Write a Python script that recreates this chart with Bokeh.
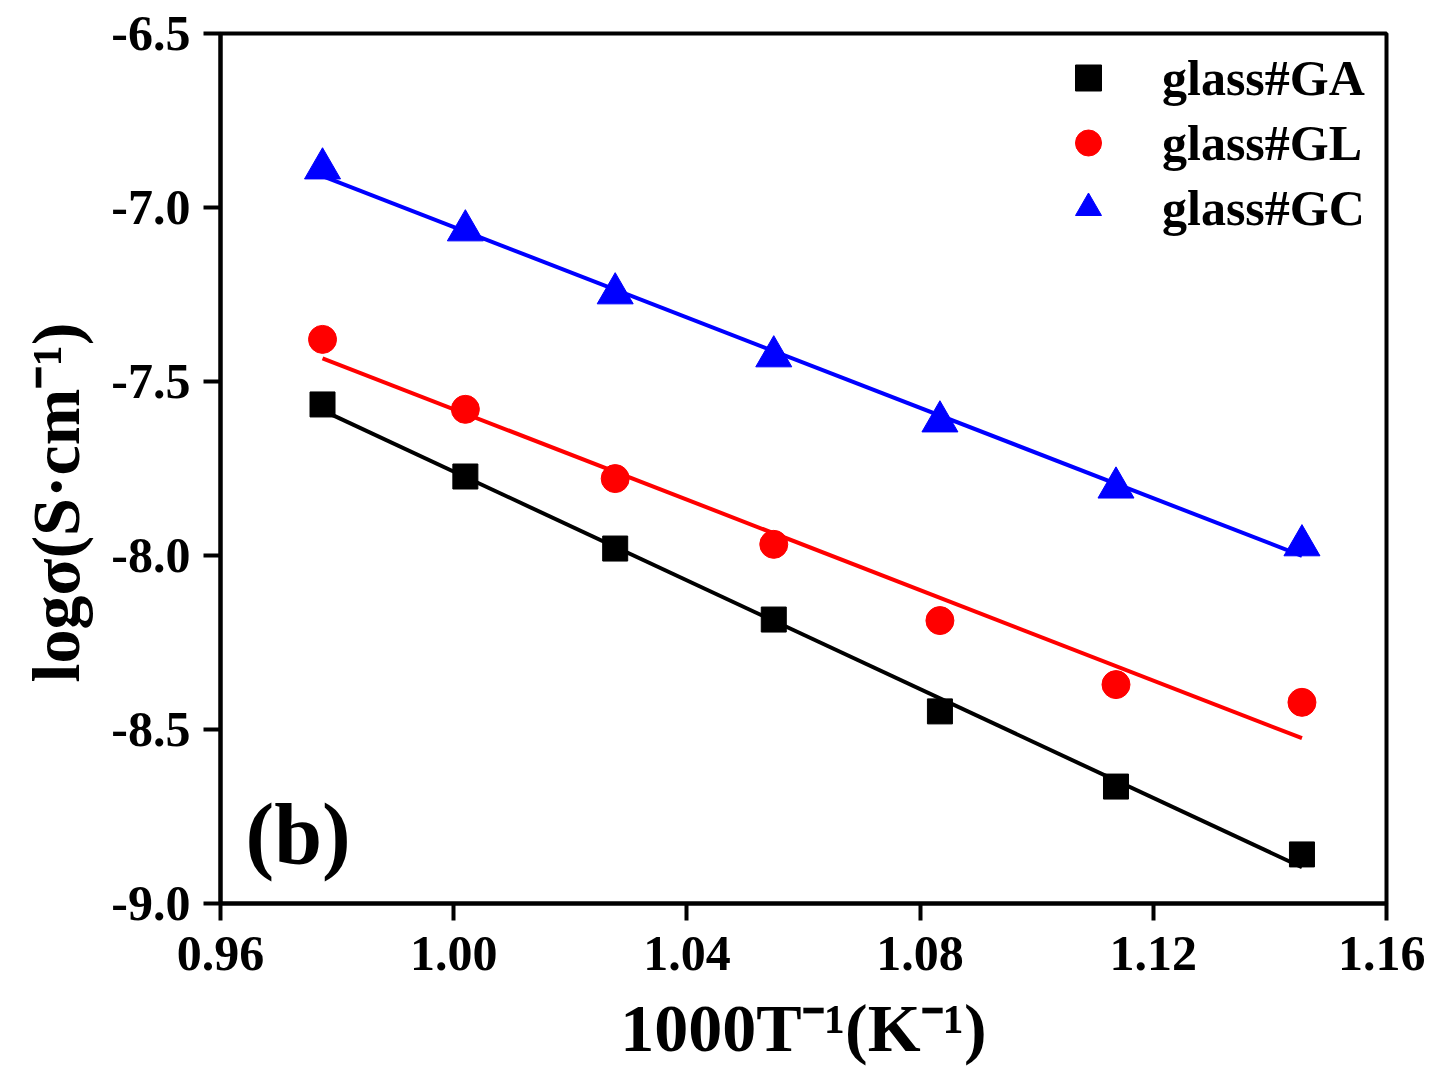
import numpy as np
from bokeh.plotting import figure
from bokeh.models import (Label, Legend, LegendItem, FixedTicker, Range1d,
                          NumeralTickFormatter)
from bokeh.embed import file_html
from bokeh.resources import INLINE

# ---------------- data ----------------
inv_T = [0.9775, 1.0020, 1.0277, 1.0549, 1.0834, 1.1136, 1.1455]   # 1000/T (K^-1)
log_sigma_GA = [-7.566, -7.773, -7.980, -8.184, -8.448, -8.664, -8.859]
log_sigma_GL = [-7.379, -7.580, -7.779, -7.968, -8.187, -8.371, -8.422]
log_sigma_GC = [-6.888, -7.066, -7.247, -7.428, -7.615, -7.805, -7.971]
series_names = ["glass#GA", "glass#GL", "glass#GC"]

x_ticks = [0.96, 1.00, 1.04, 1.08, 1.12, 1.16]
x_tick_labels = ["0.96", "1.00", "1.04", "1.08", "1.12", "1.16"]
y_ticks = [-9.0, -8.5, -8.0, -7.5, -7.0, -6.5]
y_tick_labels = ["-9.0", "-8.5", "-8.0", "-7.5", "-7.0", "-6.5"]

x_title = "1000T\u207b\u00b9(K\u207b\u00b9)"
y_title = "log\u03c3(S\u00b7cm\u207b\u00b9)"
panel_label = "(b)"

# ---------------- figure ----------------
FONT = "Liberation Serif"
p = figure(width=1425, height=1069,
           x_range=Range1d(0.96, 1.16), y_range=Range1d(-9.0, -6.5),
           output_backend="svg", toolbar_location=None,
           min_border_left=220, min_border_right=39,
           min_border_top=33, min_border_bottom=166)
p.grid.visible = False
p.background_fill_color = "white"
p.border_fill_color = "white"
p.outline_line_color = "black"
p.outline_line_width = 4
p.outline_line_alpha = 1.0

p.xaxis.ticker = FixedTicker(ticks=x_ticks)
p.yaxis.ticker = FixedTicker(ticks=y_ticks)
p.xaxis.formatter = NumeralTickFormatter(format="0.00")
p.yaxis.formatter = NumeralTickFormatter(format="0.0")
p.xaxis.major_label_overrides = dict(zip(x_ticks, x_tick_labels))
p.yaxis.major_label_overrides = dict(zip(y_ticks, y_tick_labels))

for ax in (p.xaxis[0], p.yaxis[0]):
    ax.axis_line_width = 4
    ax.axis_line_color = "black"
    ax.major_tick_line_width = 4
    ax.major_tick_line_color = "black"
    ax.major_tick_in = 0
    ax.major_tick_out = 17
    ax.minor_tick_line_color = None
    ax.major_label_text_font = FONT
    ax.major_label_text_font_style = "bold"
    ax.major_label_text_font_size = "50px"
    ax.major_label_text_color = "black"
    ax.axis_label_text_font = FONT
    ax.axis_label_text_font_style = "bold"
    ax.axis_label_text_font_size = "68px"
    ax.axis_label_text_color = "black"
p.xaxis.major_label_standoff = 16
p.yaxis.major_label_standoff = 13
p.xaxis.axis_label = x_title
p.yaxis.axis_label = y_title + "\u00a0" * 4
p.xaxis.axis_label_standoff = 17
p.yaxis.axis_label_standoff = 14

# ---------------- series ----------------
series = [log_sigma_GA, log_sigma_GL, log_sigma_GC]
colors = ["#000000", "#FF0000", "#0000FF"]
markers = ["square", "circle", "triangle"]
sizes = [25, 28, 36]

for ys, c in zip(series, colors):
    k, b = np.polyfit(inv_T, ys, 1)
    xf = [inv_T[0], inv_T[-1]]
    p.line(xf, [k * xv + b for xv in xf], line_color=c, line_width=4)

items = []
for ys, c, m, s, name in zip(series, colors, markers, sizes, series_names):
    r = p.scatter(inv_T, ys, marker=m, size=s, fill_color=c, line_color=c)
    items.append(LegendItem(label=name, renderers=[r]))

legend = Legend(items=items, location=(833, 663), glyph_width=70, glyph_height=65,
                label_height=65, spacing=0, padding=0, margin=0, label_standoff=39,
                label_text_font=FONT, label_text_font_style="bold",
                label_text_font_size="50px", label_text_color="black",
                border_line_color=None, background_fill_alpha=0)
p.add_layout(legend)

p.add_layout(Label(x=25, y=70, x_units="screen", y_units="screen", text=panel_label,
                   text_font=FONT, text_font_style="bold", text_font_size="86px",
                   text_color="black", text_align="left", text_baseline="alphabetic"))

open("out.html", "w").write(file_html(p, INLINE))
